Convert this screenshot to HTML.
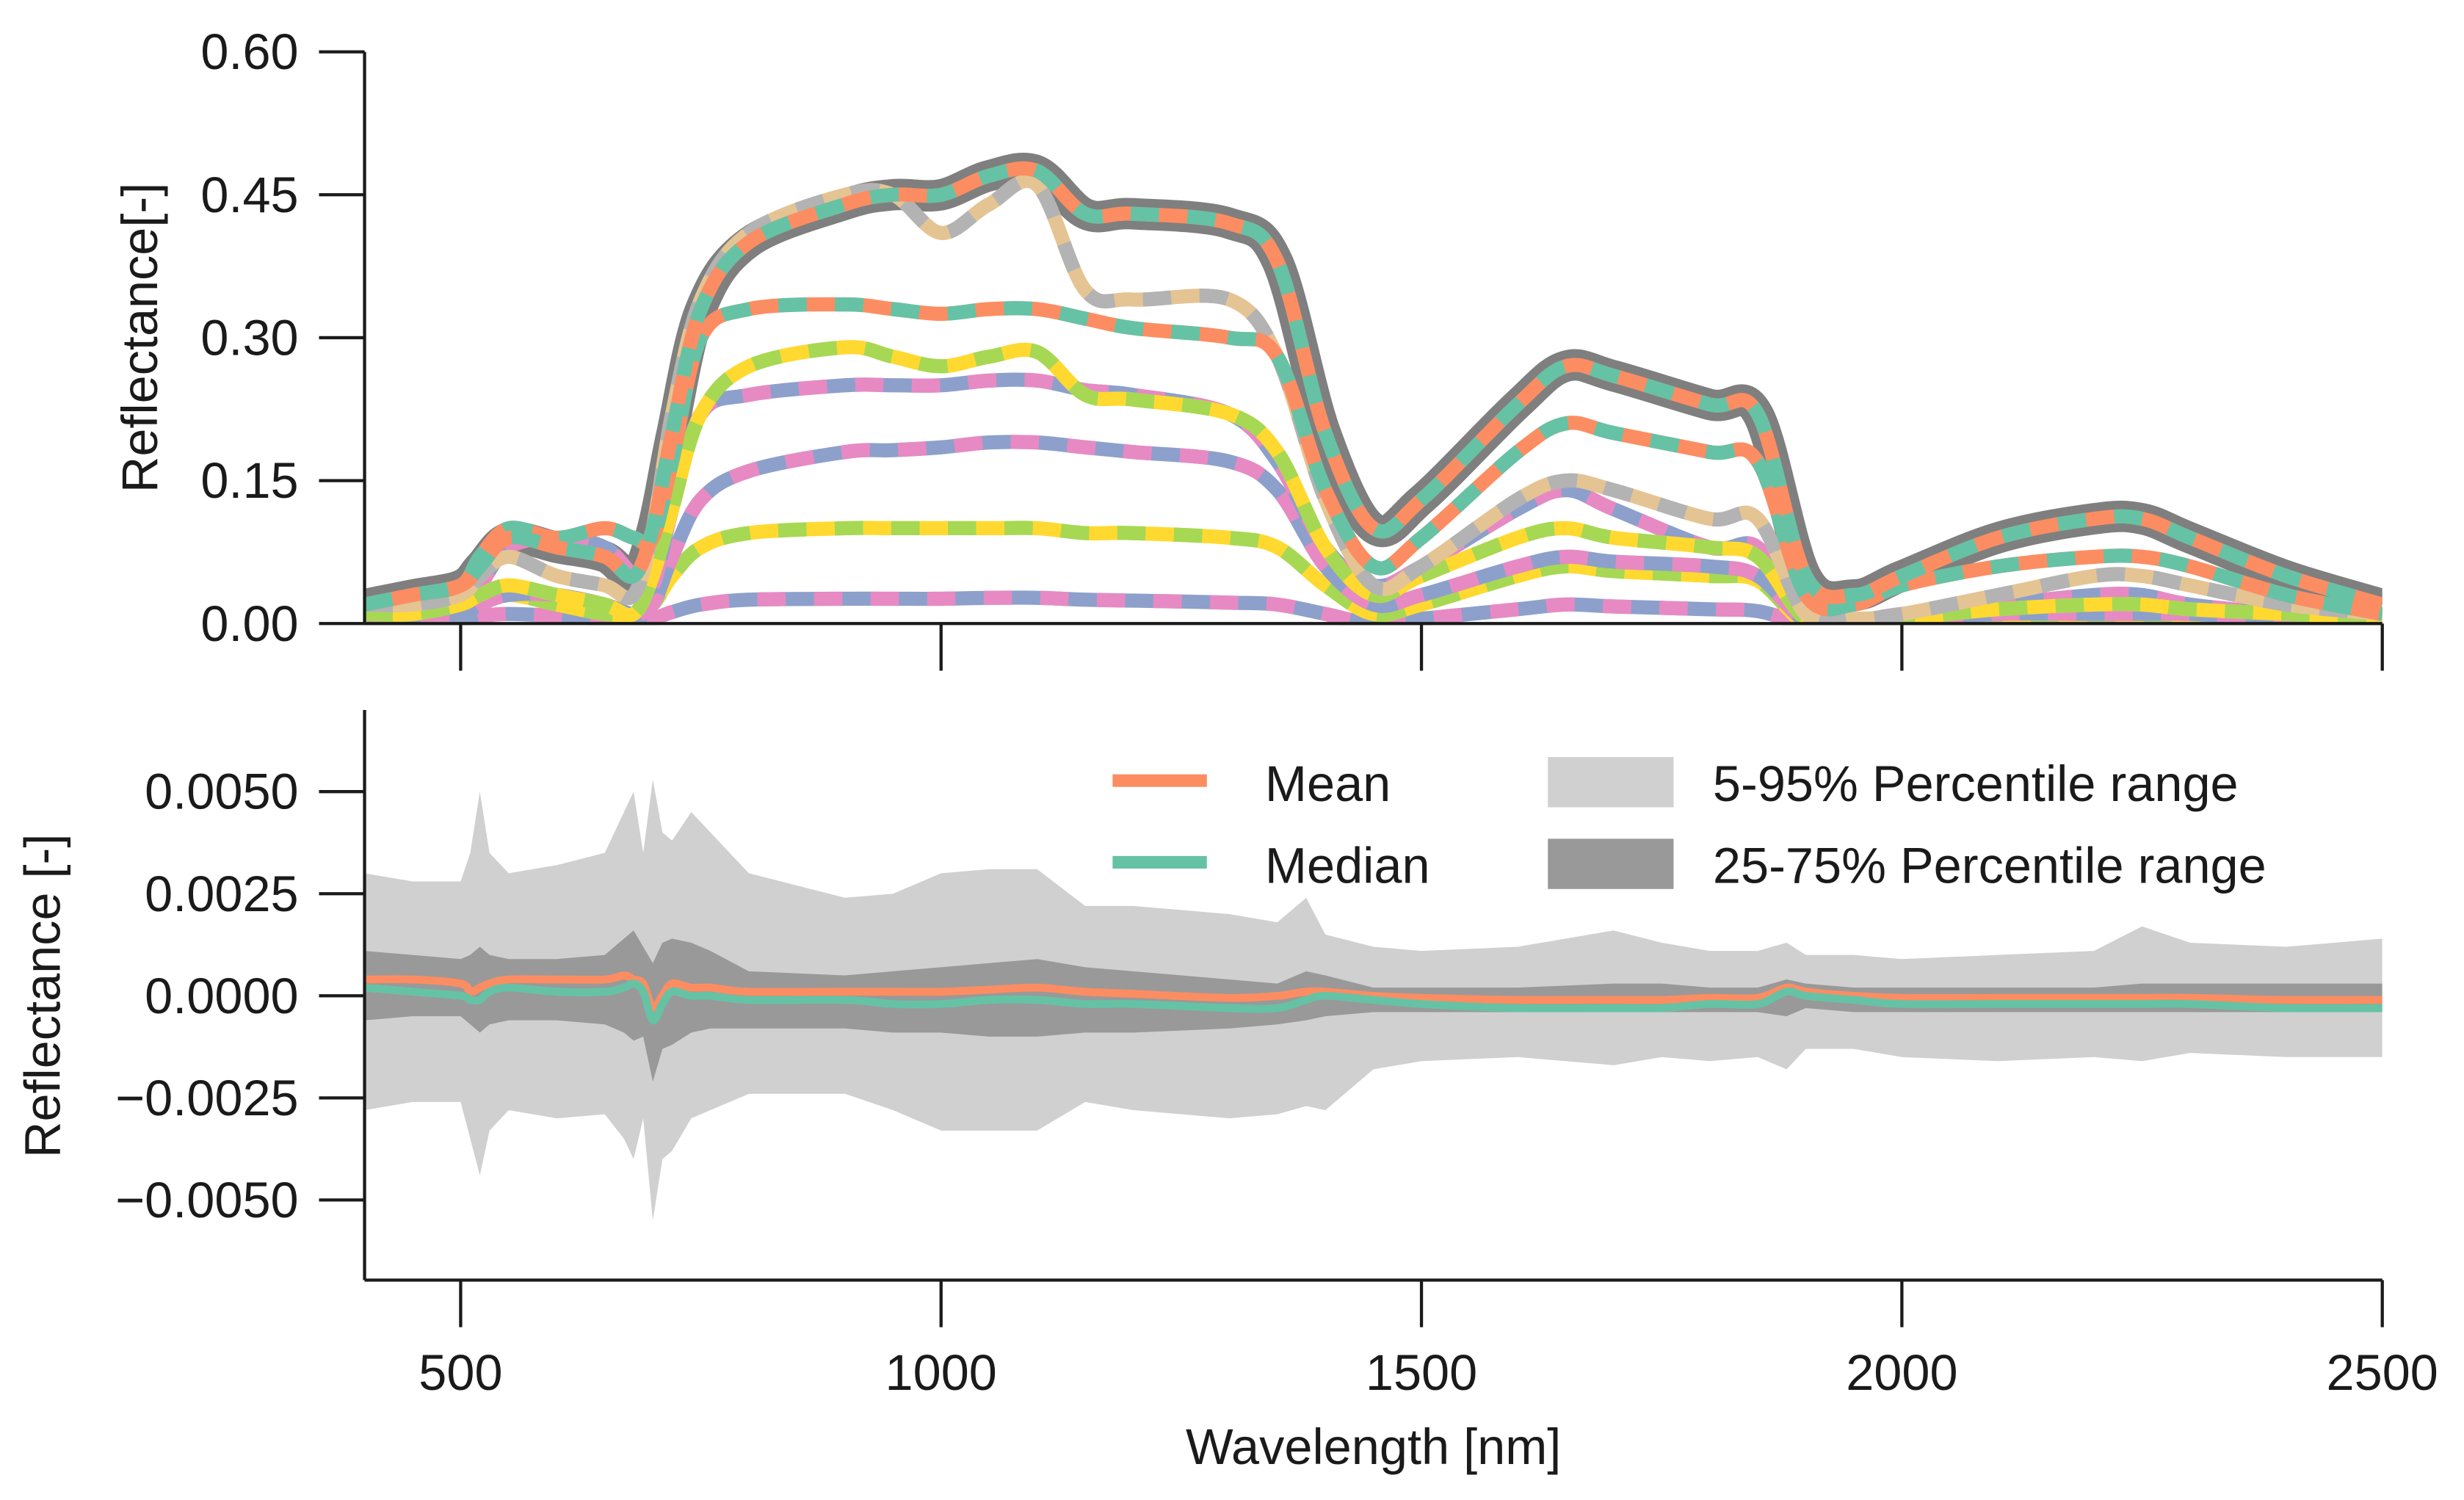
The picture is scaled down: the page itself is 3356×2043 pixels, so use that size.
<!DOCTYPE html>
<html><head><meta charset="utf-8"><style>
html,body{margin:0;padding:0;background:#fff}
svg{display:block}
text{font-family:"Liberation Sans",sans-serif;fill:#1a1a1a}
</style></head><body>
<svg id="chart" width="3356" height="2043" viewBox="0 0 1568 955" preserveAspectRatio="none" xmlns="http://www.w3.org/2000/svg">
<g id="gtop"></g>
<g id="gbot"></g>
<g id="gaxes"></g>
</svg>
<script>
// ---------- data: top panel ----------
const wl = [400,450,500,520,550,600,650,680,700,720,750,800,900,950,1000,1050,1100,1150,1200,1300,1350,1400,1450,1500,1600,1650,1700,1800,1850,1900,1950,2000,2100,2200,2250,2300,2400,2500];
const s1 = [0.02,0.03,0.04,0.06,0.09,0.08,0.07,0.05,0.10,0.20,0.33,0.40,0.44,0.45,0.45,0.47,0.475,0.43,0.43,0.42,0.38,0.20,0.10,0.13,0.23,0.27,0.26,0.23,0.22,0.05,0.03,0.05,0.09,0.11,0.11,0.09,0.05,0.02];
const s2 = [0.02,0.02,0.03,0.05,0.07,0.05,0.04,0.03,0.10,0.22,0.34,0.41,0.45,0.45,0.41,0.44,0.46,0.35,0.34,0.34,0.28,0.13,0.04,0.06,0.13,0.15,0.14,0.11,0.11,0.01,0.005,0.01,0.03,0.05,0.05,0.04,0.02,0.01];
const s3 = [0.02,0.03,0.04,0.07,0.10,0.09,0.10,0.09,0.09,0.17,0.30,0.33,0.335,0.33,0.325,0.33,0.33,0.32,0.31,0.30,0.28,0.14,0.06,0.09,0.18,0.21,0.20,0.18,0.17,0.03,0.02,0.04,0.06,0.07,0.07,0.06,0.03,0.01];
const s4 = [0.01,0.01,0.02,0.03,0.04,0.03,0.02,0.01,0.05,0.12,0.22,0.27,0.29,0.28,0.27,0.28,0.285,0.24,0.235,0.22,0.18,0.08,0.03,0.05,0.09,0.10,0.09,0.08,0.07,0.005,0.003,0.005,0.015,0.02,0.02,0.015,0.01,0.005];
const s5 = [0.01,0.01,0.02,0.04,0.08,0.09,0.08,0.05,0.04,0.12,0.22,0.24,0.25,0.25,0.25,0.255,0.255,0.245,0.24,0.22,0.17,0.08,0.04,0.06,0.12,0.14,0.12,0.08,0.08,0.005,0.003,0.01,0.02,0.03,0.03,0.02,0.01,0.005];
const s6 = [0.01,0.01,0.01,0.02,0.03,0.03,0.02,0.01,0.02,0.07,0.13,0.16,0.18,0.182,0.185,0.19,0.19,0.185,0.18,0.17,0.14,0.06,0.02,0.03,0.06,0.07,0.065,0.06,0.05,0.003,0.002,0.003,0.01,0.01,0.01,0.01,0.005,0.003];
const s7 = [0.01,0.01,0.01,0.02,0.03,0.02,0.01,0.01,0.02,0.05,0.08,0.095,0.10,0.10,0.10,0.10,0.10,0.095,0.095,0.09,0.08,0.04,0.01,0.02,0.05,0.06,0.055,0.05,0.045,0.0,0.0,0.003,0.005,0.008,0.008,0.006,0.004,0.002];
const s8 = [0.005,0.005,0.005,0.008,0.01,0.008,0.005,0.003,0.005,0.012,0.02,0.025,0.026,0.026,0.026,0.027,0.027,0.025,0.024,0.022,0.02,0.01,0.0,0.005,0.015,0.02,0.018,0.015,0.013,0.0,0.0,0.0,0.002,0.003,0.003,0.002,0.001,0.0];
// ---------- data: bottom panel (x1e-3) ----------
const wl2 = [400,450,500,510,520,530,550,600,650,670,680,690,700,710,720,740,760,800,900,950,1000,1050,1100,1150,1200,1300,1350,1380,1400,1450,1500,1600,1700,1750,1800,1850,1880,1900,1950,2000,2100,2200,2250,2300,2400,2500];
const p95 = [3.0,2.8,2.8,3.5,5.0,3.5,3.0,3.2,3.5,4.5,5.0,3.5,5.3,4.0,3.8,4.5,4.0,3.0,2.4,2.5,3.0,3.1,3.1,2.2,2.2,2.0,1.8,2.4,1.5,1.2,1.1,1.2,1.6,1.3,1.1,1.1,1.3,1.0,1.0,0.9,1.0,1.1,1.7,1.3,1.2,1.4];
const p5 = [-2.8,-2.6,-2.6,-3.5,-4.4,-3.3,-2.8,-3.0,-2.9,-3.5,-4.0,-3.0,-5.5,-4.0,-3.8,-3.0,-2.8,-2.4,-2.4,-2.8,-3.3,-3.3,-3.3,-2.6,-2.8,-3.0,-2.9,-2.7,-2.8,-1.8,-1.6,-1.5,-1.7,-1.5,-1.6,-1.5,-1.8,-1.3,-1.3,-1.5,-1.6,-1.5,-1.6,-1.4,-1.5,-1.5];
const p75 = [1.1,1.0,0.9,1.0,1.2,1.0,0.9,0.9,1.0,1.4,1.6,1.2,0.8,1.3,1.4,1.3,1.1,0.6,0.5,0.6,0.7,0.8,0.9,0.7,0.6,0.4,0.3,0.6,0.5,0.2,0.2,0.2,0.3,0.3,0.2,0.2,0.4,0.3,0.2,0.2,0.2,0.2,0.3,0.3,0.3,0.3];
const p25 = [-0.6,-0.5,-0.5,-0.7,-0.9,-0.7,-0.6,-0.6,-0.7,-0.9,-1.1,-1.0,-2.1,-1.3,-1.2,-0.9,-0.8,-0.8,-0.8,-0.9,-0.9,-1.0,-1.0,-0.9,-0.9,-0.8,-0.7,-0.6,-0.5,-0.4,-0.4,-0.4,-0.4,-0.4,-0.4,-0.4,-0.5,-0.3,-0.4,-0.4,-0.4,-0.4,-0.4,-0.4,-0.4,-0.4];
const meanR = [0.4,0.4,0.3,0.1,0.2,0.3,0.4,0.4,0.4,0.5,0.4,0.3,-0.3,0.0,0.3,0.2,0.2,0.1,0.1,0.1,0.1,0.15,0.2,0.1,0.05,-0.05,0.0,0.1,0.1,0.0,-0.05,-0.1,-0.1,-0.1,-0.05,-0.05,0.2,0.1,0.0,-0.05,-0.05,-0.05,-0.05,-0.05,-0.1,-0.1];
const medR = [0.2,0.1,0.0,-0.1,-0.1,0.1,0.2,0.1,0.1,0.2,0.3,0.1,-0.6,-0.2,0.1,0.0,0.0,-0.1,-0.1,-0.2,-0.2,-0.1,-0.1,-0.2,-0.2,-0.3,-0.3,-0.1,0.0,-0.1,-0.2,-0.3,-0.3,-0.3,-0.2,-0.2,0.1,0.0,-0.1,-0.2,-0.2,-0.2,-0.2,-0.2,-0.3,-0.3];
const xTicks = [500,1000,1500,2000,2500];
const yTopTicks = [0.00,0.15,0.30,0.45,0.60];
const yBotTicks = [-5.0,-2.5,0.0,2.5,5.0];
const yBotLabels = ["\u22120.0050","\u22120.0025","0.0000","0.0025","0.0050"];

const NS = "http://www.w3.org/2000/svg";
const X0=232, X1=1516;
const xs = w => X0 + (w-400)/(2100)*(X1-X0);
const yT = v => 397 - v/0.6*(397-33);
const yB = v => 634 - v/5*(634-504);
function mk(tag, attrs, parent){const e=document.createElementNS(NS,tag);for(const k in attrs)e.setAttribute(k,attrs[k]);parent.appendChild(e);return e;}
function smooth(pts){
  let d="M"+pts[0][0].toFixed(1)+","+pts[0][1].toFixed(1);
  for(let i=0;i<pts.length-1;i++){
    const p0=pts[Math.max(0,i-1)],p1=pts[i],p2=pts[i+1],p3=pts[Math.min(pts.length-1,i+2)];
    const c1=[p1[0]+(p2[0]-p0[0])/6,p1[1]+(p2[1]-p0[1])/6];
    const c2=[p2[0]-(p3[0]-p1[0])/6,p2[1]-(p3[1]-p1[1])/6];
    d+=`C${c1[0].toFixed(1)},${c1[1].toFixed(1)} ${c2[0].toFixed(1)},${c2[1].toFixed(1)} ${p2[0].toFixed(1)},${p2[1].toFixed(1)}`;
  }
  return d;
}
const gTop=document.getElementById('gtop'), gBot=document.getElementById('gbot'), gAxes=document.getElementById('gaxes');
const defs=mk('defs',{},document.getElementById('chart'));
const cp=mk('clipPath',{id:'ctop'},defs); mk('rect',{x:X0,y:20,width:X1-X0,height:378},cp);
const cp2=mk('clipPath',{id:'cbot'},defs); mk('rect',{x:X0,y:452,width:X1-X0,height:363},cp2);
gTop.setAttribute('clip-path','url(#ctop)');
gBot.setAttribute('clip-path','url(#cbot)');

const band = mk('path',{d:smooth(wl.map((w,i)=>[xs(w),yT(s1[i])])),fill:'none',stroke:'#7f7f7f','stroke-width':20,'stroke-linejoin':'round'},gTop);


const series=[[s8,'#8da0cb','#e78ac3','spectrum-8'],[s7,'#ffd92f','#a6d854','spectrum-7'],[s6,'#8da0cb','#e78ac3','spectrum-6'],[s5,'#8da0cb','#e78ac3','spectrum-5'],[s4,'#ffd92f','#a6d854','spectrum-4'],[s2,'#e5c494','#b3b3b3','spectrum-2'],[s3,'#fc8d62','#66c2a5','spectrum-3'],[s1,'#fc8d62','#66c2a5','spectrum-1']];
series.forEach(([s,c1,c2,name])=>{
  const d=smooth(wl.map((w,i)=>[xs(w),yT(s[i])]));
  const a=mk('path',{d,fill:'none',stroke:c1,'stroke-width':9},gTop);
  
  
  const b=mk('path',{d,fill:'none',stroke:c2,'stroke-width':9,'stroke-dasharray':'18 18'},gTop);
  
  
});

function area(lo,hi){const up=wl2.map((w,i)=>[xs(w),yB(hi[i])]);const dn=wl2.map((w,i)=>[xs(w),yB(lo[i])]).reverse();
  return "M"+up.map(p=>p.join(',')).join('L')+"L"+dn.map(p=>p.join(',')).join('L')+"Z";}
const a1=mk('path',{d:area(p5,p95),fill:'#d0d0d0'},gBot);


const a2=mk('path',{d:area(p25,p75),fill:'#999999'},gBot);


const lm=mk('path',{d:smooth(wl2.map((w,i)=>[xs(w),yB(meanR[i])])),fill:'none',stroke:'#fc8d62','stroke-width':5},gBot);


const ld=mk('path',{d:smooth(wl2.map((w,i)=>[xs(w),yB(medR[i])])),fill:'none',stroke:'#66c2a5','stroke-width':5},gBot);



function line(x1,y1,x2,y2,name){const l=mk('line',{x1,y1,x2,y2,stroke:'#1a1a1a','stroke-width':2},gAxes);}
function txt(s,xx,yy,anchor,name,extra){const t=mk('text',Object.assign({x:xx,y:yy,'text-anchor':anchor,'font-size':32},extra||{}),gAxes);t.textContent=s;return t;}
line(X0,33,X0,397,'top-y-axis'); line(X0,397,X1,397,'top-x-axis');
line(X0,452,X0,815,'bottom-y-axis'); line(X0,815,X1,815,'bottom-x-axis');
xTicks.forEach(t=>{line(xs(t),397,xs(t),427,'top-x-tick');line(xs(t),815,xs(t),845,'bottom-x-tick');txt(String(t),xs(t),885,'middle','x-tick-label');});
yTopTicks.forEach(t=>{line(203,yT(t),X0,yT(t),'top-y-tick');txt(t.toFixed(2),190,yT(t)+11,'end','top-y-tick-label');});
yBotTicks.forEach((t,i)=>{line(203,yB(t),X0,yB(t),'bottom-y-tick');txt(yBotLabels[i],190,yB(t)+11,'end','bottom-y-tick-label');});
txt('Wavelength [nm]',874,932,'middle','x-axis-title');
txt('Reflectance[-]',100,215,'middle','top-y-axis-title',{transform:'rotate(-90 100 215)'});
txt('Reflectance [-]',38,634,'middle','bottom-y-axis-title',{transform:'rotate(-90 38 634)'});
const lg=mk('g',{},gAxes);


mk('line',{x1:708,y1:497,x2:768,y2:497,stroke:'#fc8d62','stroke-width':8},lg);
mk('line',{x1:708,y1:549,x2:768,y2:549,stroke:'#66c2a5','stroke-width':8},lg);
mk('rect',{x:985,y:482,width:80,height:32,fill:'#d0d0d0'},lg);
mk('rect',{x:985,y:534,width:80,height:32,fill:'#999999'},lg);
txt('Mean',805,510,'start','legend-mean');
txt('Median',805,562,'start','legend-median');
txt('5-95% Percentile range',1090,510,'start','legend-5-95');
txt('25-75% Percentile range',1090,562,'start','legend-25-75');
</script>
</body></html>
